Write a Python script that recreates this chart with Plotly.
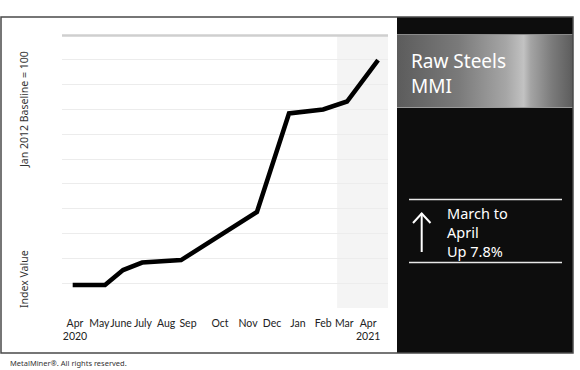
import plotly.graph_objects as go

W, H = 580, 370

# ---- data ----
# x positions in months since Apr 2020 (fractional, as drawn)
month_pos = [0.0, 1.27, 1.98, 2.73, 4.26, 7.24, 8.50, 9.84, 10.78, 12.0]
index_values = [69.3, 69.3, 75.3, 78.3, 79.3, 98.7, 138.4, 140.0, 143.2, 159.9]

tick_pos = [0.09, 1.05, 1.90, 2.76, 3.67, 4.53, 5.79, 6.89, 7.83, 8.85, 9.84, 10.67, 11.61]
tick_text = ["Apr<br>2020", "May", "June", "July", "Aug", "Sep", "Oct", "Nov",
             "Dec", "Jan", "Feb", "Mar", "Apr<br>2021"]

x_range = [-0.42, 12.39]
y_range = [60, 170]
shade_start = 10.39

FONT = "Noto Sans"
TICKFONT = "Lato"

def px(x):
    return x / W

def py(y):
    return 1 - y / H

fig = go.Figure()
fig.add_trace(go.Scatter(
    x=month_pos, y=index_values, mode="lines",
    line=dict(color="#000000", width=4.5),
    hoverinfo="skip", showlegend=False))

# gradient title band (filled polygon with horizontal gradient on an overlay axis)
fig.add_trace(go.Scatter(
    x=[0, 1, 1, 0, 0], y=[0, 0, 1, 1, 0], xaxis="x2", yaxis="y2",
    mode="lines", line=dict(width=0), fill="toself",
    fillgradient=dict(type="horizontal", colorscale=[
        [0.0, "#5c5c5c"], [0.35, "#7a7a7a"], [0.62, "#a6a6a6"], [0.72, "#c2c2c2"],
        [0.76, "#a4a4a4"], [0.88, "#7b7b7b"], [1.0, "#5c5c5c"]]),
    hoverinfo="skip", showlegend=False))

shapes = []
# shaded recent region
shapes.append(dict(type="rect", xref="x", yref="y", x0=shade_start, x1=x_range[1],
                   y0=y_range[0], y1=y_range[1], fillcolor="#f4f4f4",
                   line=dict(width=0), layer="below"))
# top heavier line
shapes.append(dict(type="line", xref="paper", yref="paper", x0=px(62), x1=px(388),
                   y0=py(35.5), y1=py(35.5), line=dict(color="#cfcfcf", width=2.5)))
# black side panel
shapes.append(dict(type="rect", xref="paper", yref="paper", x0=px(397), x1=px(573),
                   y0=py(353), y1=py(17), fillcolor="#0d0d0d", line=dict(width=0),
                   layer="below"))
# band edge lines
shapes.append(dict(type="line", xref="paper", yref="paper", x0=px(397), x1=px(573),
                   y0=py(34.5), y1=py(34.5), line=dict(color="#8a8a8a", width=1.2)))
shapes.append(dict(type="line", xref="paper", yref="paper", x0=px(397), x1=px(573),
                   y0=py(107.5), y1=py(107.5), line=dict(color="#9a9a9a", width=1.2)))
# outer frame
shapes.append(dict(type="rect", xref="paper", yref="paper", x0=px(1), x1=px(573),
                   y0=py(353), y1=py(17), fillcolor="rgba(0,0,0,0)",
                   line=dict(color="#4a4a4a", width=1.5)))
# panel divider lines
for yy in (199.5, 262.5):
    shapes.append(dict(type="line", xref="paper", yref="paper", x0=px(409), x1=px(562),
                       y0=py(yy), y1=py(yy), line=dict(color="#e8e8e8", width=1.5)))
# up arrow
shapes.append(dict(type="line", xref="paper", yref="paper", x0=px(421.7), x1=px(421.7),
                   y0=py(252), y1=py(213), line=dict(color="#ffffff", width=2)))
shapes.append(dict(type="path", xref="paper", yref="paper",
                   path=f"M {px(413)},{py(223)} L {px(421.7)},{py(213.5)} L {px(430.5)},{py(223)}",
                   line=dict(color="#ffffff", width=2)))

annotations = [
    dict(text="Raw Steels<br>MMI", x=px(409), y=py(46), xref="paper", yref="paper",
         xanchor="left", yanchor="top", showarrow=False, align="left",
         font=dict(family=FONT, size=19, color="#ffffff")),
    dict(text="March to<br>April<br>Up 7.8%", x=px(445), y=py(201), xref="paper", yref="paper",
         xanchor="left", yanchor="top", showarrow=False, align="left",
         font=dict(family=FONT, size=14.5, color="#ffffff")),
    dict(text="Jan 2012 Baseline = 100", x=px(24), y=py(110), xref="paper", yref="paper",
         textangle=-90, showarrow=False, xanchor="center", yanchor="middle",
         font=dict(family=FONT, size=10.5, color="#333333")),
    dict(text="Index Value", x=px(24), y=py(279), xref="paper", yref="paper",
         textangle=-90, showarrow=False, xanchor="center", yanchor="middle",
         font=dict(family=FONT, size=10.5, color="#333333")),
    dict(text="MetalMiner®. All rights reserved.", x=px(8), y=py(363), xref="paper", yref="paper",
         xanchor="left", yanchor="middle", showarrow=False,
         font=dict(family=FONT, size=7.5, color="#333333")),
]

fig.update_layout(
    width=W, height=H,
    margin=dict(l=0, r=0, t=0, b=0),
    paper_bgcolor="#ffffff", plot_bgcolor="rgba(0,0,0,0)",
    shapes=shapes, annotations=annotations,
    xaxis=dict(domain=[px(62), px(388)], range=x_range, showgrid=False, zeroline=False,
               showline=False, tickmode="array", tickvals=tick_pos, ticktext=tick_text,
               ticks="", tickangle=0, tickfont=dict(family=TICKFONT, size=10.5, color="#222222"),
               automargin=False, ticklabelstandoff=7),
    yaxis=dict(domain=[py(308), py(35)], range=y_range, dtick=10, tick0=60,
               showgrid=True, gridcolor="#ececec", gridwidth=1, zeroline=False,
               showline=False, showticklabels=False, ticks="", automargin=False),
    xaxis2=dict(domain=[px(397), px(573)], range=[0, 1], visible=False, fixedrange=True),
    yaxis2=dict(domain=[py(108), py(34)], range=[0, 1], visible=False, fixedrange=True,
                anchor="x2"),
    showlegend=False,
)
fig.data[1].update(xaxis="x2", yaxis="y2")

fig.write_html("out.html", config={"displayModeBar": False},
               post_script="document.body.style.margin='0';")
